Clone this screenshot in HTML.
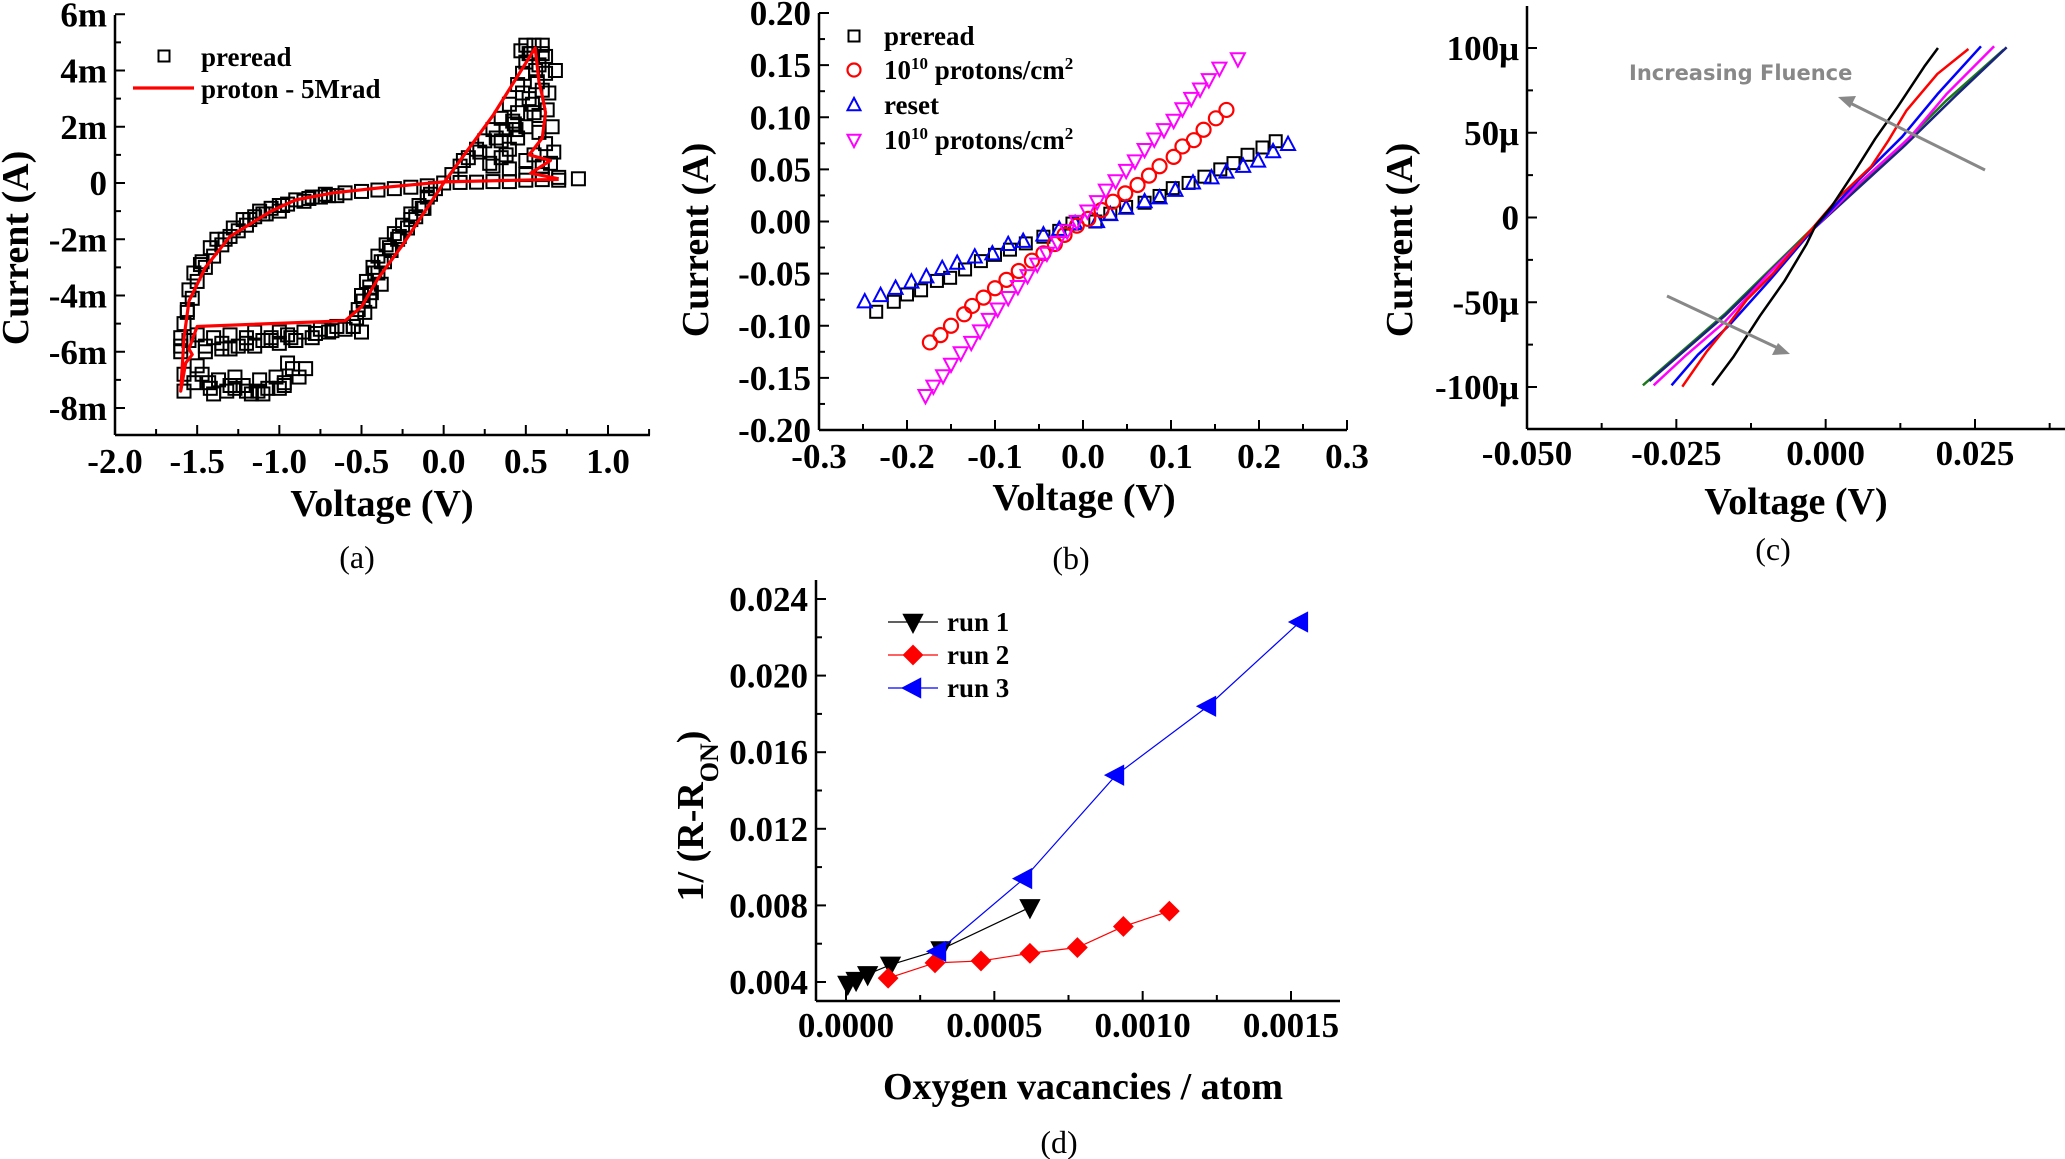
<!DOCTYPE html>
<html><head><meta charset="utf-8">
<style>
html,body{margin:0;padding:0;background:#fff;}
svg{display:block;font-family:"Liberation Serif","DejaVu Serif",serif;}
.tl{font-weight:bold;font-size:35px;}
.tt{font-weight:bold;font-size:38px;}
.lg{font-weight:bold;font-size:27px;}
.cap{font-size:32px;}
</style></head>
<body>
<svg id="fig" width="2065" height="1159" viewBox="0 0 2065 1159" xmlns="http://www.w3.org/2000/svg">
<rect width="2065" height="1159" fill="#fff"/>
<g id="pa"></g>
<g id="pb"></g>
<g id="pc"></g>
<g id="pd"></g>
</svg>
<script>
// ---------- Panel (a) data ----------
const aPreV = [0.82,0.7,0.6,0.5,0.4,0.3,0.2,0.1,0.0,-0.1,-0.2,-0.3,-0.4,-0.5,-0.6,-0.7,-0.8,-0.9,-1.0,-1.05,-1.1,-1.15,-1.2,-1.25,-1.3,-1.35,-1.4,-1.45,-1.5,-1.53,-1.56,-1.58,-1.6,
 -0.65,-0.75,-0.85,-0.95,-1.0,-1.08,-1.18,-1.28,-1.33,-1.42,-1.47,-1.52,-1.55,
 -1.6,-1.55,-1.5,-1.45,-1.4,-1.35,-1.3,-1.25,-1.2,-1.15,-1.1,-1.05,-1.0,-0.95,-0.9,-0.85,-0.8,-0.75,-0.7,-0.65,-0.6,-0.55,-1.45,-1.3,-1.15,-1.0,-0.9,
 -1.58,-1.52,-1.47,-1.42,-1.37,-1.32,-1.27,-1.22,-1.17,-1.12,-1.07,-1.02,-0.97,-0.92,-0.88,-0.84,-1.5,-1.4,-1.3,-1.2,-1.1,-1.0,-0.95,
 -0.55,-0.52,-0.5,-0.47,-0.43,-0.4,-0.35,-0.3,-0.25,-0.2,-0.15,-0.1,-0.05,-0.48,-0.44,-0.4,-0.36,-0.32,-0.28,-0.22,-0.17,-0.12,-0.5,-0.45,-0.38,
 0.05,0.1,0.15,0.2,0.25,0.3,0.35,0.4,0.45,0.5,0.5,0.55,0.6,0.62,0.58,0.62,0.68,0.6,0.63,0.55,0.5,0.45,0.4,0.35,0.3,0.55,0.62,0.65,0.6,0.5,0.4,0.58,0.52,0.45,0.35,0.47,0.53,0.57,0.43,0.38,
 -1.48,-1.38,-1.22,-1.12,-0.98,-0.82,-0.72,-1.56,-1.6,-1.58,-1.43,-1.27,-1.13,-0.97,-0.78,-0.68,-1.35,-1.2,-1.05,-0.93,
 -0.53,-0.49,-0.45,-0.42,-0.38,-0.33,-0.27,-0.2,-0.13,-0.08,
 0.12,0.22,0.32,0.42,0.48,0.52,0.56,0.6,0.64,0.66,0.54,0.44,0.38,0.28,0.5,0.6,0.67,0.7,0.48,0.58];
const aPreI = [0.15,0.1,0.12,0.1,0.05,0.05,0.03,0.02,0.0,-0.1,-0.15,-0.2,-0.25,-0.3,-0.35,-0.45,-0.5,-0.6,-0.8,-0.9,-1.1,-1.2,-1.5,-1.7,-1.9,-2.2,-2.6,-3.0,-3.5,-4.1,-4.6,-5.0,-5.5,
 -0.45,-0.5,-0.65,-0.75,-1.0,-1.1,-1.3,-1.6,-2.0,-2.3,-2.8,-3.2,-3.8,
 -5.8,-5.6,-5.4,-5.8,-5.5,-5.7,-5.4,-5.8,-5.5,-5.3,-5.6,-5.5,-5.3,-5.4,-5.6,-5.3,-5.5,-5.2,-5.3,-5.1,-5.2,-5.1,-6.0,-5.9,-5.8,-5.7,-5.6,
 -7.4,-7.1,-6.8,-7.3,-7.0,-7.4,-6.9,-7.2,-7.5,-7.0,-7.3,-6.9,-7.1,-6.6,-6.9,-6.6,-6.5,-7.5,-7.2,-7.4,-7.5,-7.3,-6.4,
 -5.1,-4.5,-4.0,-3.5,-3.0,-2.6,-2.2,-1.8,-1.5,-1.1,-0.8,-0.5,-0.2,-4.6,-3.9,-3.2,-2.8,-2.4,-2.0,-1.6,-1.2,-0.9,-5.3,-4.2,-3.6,
 0.3,0.6,0.9,1.2,1.5,1.9,2.3,2.8,3.5,4.3,4.9,4.9,4.9,4.5,4.2,3.9,4.0,3.3,2.6,2.5,2.0,1.6,1.2,0.9,0.6,1.0,1.4,0.7,0.3,0.3,0.5,1.8,3.0,2.5,1.5,4.7,4.6,3.6,2.1,1.9,
 -2.9,-2.0,-1.3,-1.0,-0.8,-0.55,-0.4,-4.5,-6.0,-6.8,-7.1,-7.3,-7.4,-7.2,-5.35,-5.25,-5.9,-5.7,-5.6,-5.5,
 -4.8,-4.2,-3.7,-3.2,-2.8,-2.3,-1.9,-1.3,-0.9,-0.4,
 0.8,1.1,1.6,2.2,3.9,4.6,4.0,4.6,3.2,2.0,2.8,1.9,1.0,0.7,0.8,0.6,1.1,0.2,3.2,2.4];
const aRedV = [0.7,0.3,0.0,-0.35,-0.67,-0.9,-1.05,-1.3,-1.45,-1.55,-1.58,-1.6,-1.57,-1.53,-1.55,-1.5,-0.6,-0.5,-0.4,-0.25,0.0,0.3,0.557,0.58,0.6,0.62,0.6,0.52,0.65,0.53,0.7];
const aRedI = [0.13,0.08,0.04,-0.15,-0.35,-0.6,-1.0,-1.9,-3.0,-4.2,-5.5,-7.4,-6.4,-6.1,-5.9,-5.1,-4.9,-4.4,-3.4,-2.2,0.0,2.4,4.8,3.6,3.1,2.5,1.6,1.0,0.8,0.35,0.15];
const aXTicks = ["-2.0","-1.5","-1.0","-0.5","0.0","0.5","1.0"];
const aYTicks = ["6m","4m","2m","0","-2m","-4m","-6m","-8m"];

// ---------- Panel (b) data ----------
const bPreV = [-0.235,-0.215,-0.2,-0.184,-0.166,-0.151,-0.134,-0.116,-0.1,-0.083,-0.065,-0.045,-0.027,-0.012,0.014,0.031,0.049,0.07,0.087,0.102,0.12,0.138,0.156,0.171,0.187,0.204,0.219];
const bPreI = [-0.0866,-0.077,-0.07,-0.066,-0.057,-0.054,-0.046,-0.038,-0.032,-0.027,-0.021,-0.0146,-0.009,-0.002,0.0,0.0075,0.014,0.018,0.0245,0.032,0.037,0.043,0.05,0.056,0.064,0.071,0.077];
const bP1V = [-0.174,-0.162,-0.15,-0.135,-0.126,-0.113,-0.1,-0.087,-0.073,-0.058,-0.045,-0.032,-0.021,-0.007,0.006,0.021,0.034,0.048,0.062,0.075,0.087,0.103,0.113,0.126,0.137,0.151,0.163];
const bP1I = [-0.116,-0.109,-0.1,-0.089,-0.081,-0.073,-0.064,-0.056,-0.0475,-0.0376,-0.0305,-0.0216,-0.0128,-0.004,0.0025,0.011,0.019,0.027,0.035,0.044,0.053,0.062,0.072,0.078,0.088,0.099,0.107];
const bResV = [-0.248,-0.23,-0.213,-0.195,-0.178,-0.16,-0.143,-0.123,-0.103,-0.085,-0.068,-0.045,-0.027,-0.009,0.016,0.031,0.049,0.07,0.087,0.105,0.125,0.146,0.163,0.182,0.199,0.216,0.233];
const bResI = [-0.077,-0.071,-0.064,-0.058,-0.053,-0.045,-0.04,-0.034,-0.031,-0.022,-0.019,-0.0128,-0.0075,-0.002,0.0,0.0067,0.0128,0.019,0.0227,0.03,0.037,0.042,0.0475,0.053,0.058,0.067,0.074];
const bP2V = [-0.179,-0.17,-0.159,-0.15,-0.139,-0.127,-0.117,-0.107,-0.097,-0.085,-0.074,-0.063,-0.052,-0.041,-0.029,-0.018,-0.007,0.005,0.016,0.026,0.037,0.049,0.059,0.07,0.081,0.092,0.103,0.113,0.123,0.133,0.143,0.155,0.176];
const bP2I = [-0.167,-0.158,-0.148,-0.137,-0.126,-0.116,-0.105,-0.094,-0.084,-0.073,-0.0625,-0.052,-0.041,-0.0305,-0.02,-0.009,0.0,0.01,0.019,0.03,0.039,0.049,0.058,0.069,0.079,0.088,0.097,0.108,0.118,0.127,0.136,0.147,0.156];
const bXTicks = ["-0.3","-0.2","-0.1","0.0","0.1","0.2","0.3"];
const bYTicks = ["0.20","0.15","0.10","0.05","0.00","-0.05","-0.10","-0.15","-0.20"];

// ---------- Panel (c) data ----------
const cBlackV = [-0.019,-0.0154,-0.011,-0.0069,-0.0032,-0.0017,0.0009,0.0046,0.0083,0.012,0.0165,0.0188];
const cBlackI = [-99,-82,-58,-37.5,-15.7,-4.8,6,25.8,46.5,65,89,100];
const cRedV = [-0.024,-0.0199,-0.0169,-0.0132,-0.0088,-0.0021,0.0024,0.0076,0.0105,0.0135,0.0187,0.0239];
const cRedI = [-99.8,-79,-66,-48.5,-33,-5.9,12.7,30,45.4,63,84.7,99.4];
const cBlueV = [-0.0258,-0.0214,-0.0162,-0.0095,-0.0021,0.0053,0.0128,0.0187,0.026];
const cBlueI = [-99,-81,-63.8,-37.5,-7,21.4,47.6,72.7,101];
const cMagV = [-0.0288,-0.0236,-0.0169,-0.0095,-0.0021,0.0053,0.0142,0.0202,0.0282];
const cMagI = [-99,-82,-61.6,-33,-7,19.2,47.6,72.7,101];
const cGreenV = [-0.0306,-0.0169,-0.0021,0.0128,0.0202,0.0298];
const cGreenI = [-99,-57,-6,43,69,99];
const cNavyV = [-0.0295,-0.0169,-0.0021,0.0128,0.0217,0.0303];
const cNavyI = [-96.5,-58,-7,41,71.6,100.4];
const cXTicks = ["-0.050","-0.025","0.000","0.025"];
const cYTicks = ["100μ","50μ","0","-50μ","-100μ"];

// ---------- Panel (d) data ----------
const dRun1X = [0.000006,0.000034,0.000073,0.00015,0.00032,0.00062];
const dRun1Y = [0.0039,0.0041,0.0044,0.0049,0.0057,0.0079];
const dRun2X = [0.000142,0.0003,0.000455,0.00062,0.00078,0.000935,0.00109];
const dRun2Y = [0.0042,0.0050,0.0051,0.0055,0.0058,0.0069,0.0077];
const dRun3X = [0.00031,0.0006,0.00091,0.00122,0.00153];
const dRun3Y = [0.0056,0.0094,0.0148,0.0184,0.0228];
const dXTicks = ["0.0000","0.0005","0.0010","0.0015"];
const dYTicks = ["0.024","0.020","0.016","0.012","0.008","0.004"];

const NS = "http://www.w3.org/2000/svg";
function mk(parent, tag, attrs, text){
  const e = document.createElementNS(NS, tag);
  for (const k in attrs) e.setAttribute(k, attrs[k]);
  if (text !== undefined) e.textContent = text;
  parent.appendChild(e);
  return e;
}
function lin(d0,d1,r0,r1){ return v => r0 + (v-d0)*(r1-r0)/(d1-d0); }

function marker(g, type, x, y, s, color, fill){
  let e;
  const f = fill ? color : "none";
  if (type === "square") e = mk(g,"rect",{x:x-s/2,y:y-s/2,width:s,height:s,fill:f,stroke:color,"stroke-width":2});
  else if (type === "circle") e = mk(g,"circle",{cx:x,cy:y,r:s/2,fill:f,stroke:color,"stroke-width":2.2});
  else {
    let p;
    const h = s/2;
    if (type === "up") p = [[x,y-h*1.1],[x+h,y+h*0.8],[x-h,y+h*0.8]];
    else if (type === "down") p = [[x-h,y-h*0.8],[x+h,y-h*0.8],[x,y+h*1.1]];
    else if (type === "left") p = [[x-h*1.1,y],[x+h*0.8,y-h],[x+h*0.8,y+h]];
    else p = [[x,y-h],[x+h,y],[x,y+h],[x-h,y]];
    e = mk(g,"polygon",{points:p.map(q=>q.join(",")).join(" "),fill:f,stroke:color,"stroke-width":2});
  }
  return e;
}

function axes(g, o){
  const ax = mk(g,"g",{});
  
  
  mk(ax,"line",{x1:o.axX,y1:o.yTop,x2:o.axX,y2:o.axY,stroke:"#000","stroke-width":2.5});
  mk(ax,"line",{x1:o.axX,y1:o.axY,x2:o.xEnd,y2:o.axY,stroke:"#000","stroke-width":2.5});
  o.xMinor.forEach(v=>{ const X=o.xs(v); if (X>o.xEnd) return; mk(ax,"line",{x1:X,y1:o.axY,x2:X,y2:o.axY-6,stroke:"#000","stroke-width":2}); });
  o.xMajor.forEach(v=>{ const X=o.xs(v); mk(ax,"line",{x1:X,y1:o.axY,x2:X,y2:o.axY-10,stroke:"#000","stroke-width":2}); });
  o.yMinor.forEach(v=>{ const Y=o.ys(v); if (Y<o.yTop||Y>o.axY) return; mk(ax,"line",{x1:o.axX,y1:Y,x2:o.axX+6,y2:Y,stroke:"#000","stroke-width":2}); });
  o.yMajor.forEach(v=>{ const Y=o.ys(v); mk(ax,"line",{x1:o.axX,y1:Y,x2:o.axX+10,y2:Y,stroke:"#000","stroke-width":2}); });
  o.xLabVals.forEach((v,i)=>{
    const t = mk(ax,"text",{x:o.xs(v),y:o.xLabY,"text-anchor":"middle",class:"tl"},o.xLabels[i]);
    
    
  });
  o.yLabVals.forEach((v,i)=>{
    const t = mk(ax,"text",{x:o.axX-8,y:o.ys(v)+12,"text-anchor":"end",class:"tl"},o.yLabels[i]);
    
    
  });
  const xt = mk(g,"text",{x:o.xtX,y:o.xtY,"text-anchor":"middle",class:"tt"},o.xTitle);
  
  
  const yt = mk(g,"text",{x:0,y:0,"text-anchor":"middle",class:"tt",transform:`translate(${o.ytX},${o.ytY}) rotate(-90)`});
  
  
  if (o.yTitleSub){ yt.textContent = o.yTitle; mk(yt,"tspan",{"baseline-shift":"sub","font-size":"26px"},o.yTitleSub); mk(yt,"tspan",{},")"); }
  else yt.textContent = o.yTitle;
  const cp = mk(g,"text",{x:o.capX,y:o.capY,"text-anchor":"middle",class:"cap"},o.cap);
  
  
}
function range(a,b,s){ const r=[]; for(let v=a; v<=b+1e-12; v+=s) r.push(+v.toFixed(8)); return r; }

// ===== Panel a =====
(function(){
  const g = document.getElementById("pa");
  const xs = lin(-2,1,115,608), ys = lin(0,-8,183,408);
  axes(g,{pfx:"a",axX:115,axY:435,yTop:15,xEnd:650,xs,ys,
    xMajor:range(-2,1,0.5),xMinor:range(-1.75,1.25,0.5),yMajor:range(-8,6,2),yMinor:range(-7,5,2),
    xLabVals:range(-2,1,0.5),xLabels:aXTicks,xLabY:473,
    yLabVals:[6,4,2,0,-2,-4,-6,-8],yLabels:aYTicks,
    xTitle:"Voltage (V)",xtX:382,xtY:516,yTitle:"Current (A)",ytX:28,ytY:248,cap:"(a)",capX:357,capY:568});
  const s = mk(g,"g",{});
  
  
  aPreV.forEach((v,i)=>{ marker(s,"square",xs(v),ys(aPreI[i]),13,"#000",false); });
  const pl = mk(g,"polyline",{points:aRedV.map((v,i)=>xs(v)+","+ys(aRedI[i])).join(" "),fill:"none",stroke:"#f00","stroke-width":3.2,"stroke-linejoin":"round"});
  
  
  const lg = mk(g,"g",{});
  
  
  marker(lg,"square",164,56,11,"#000",false);
  mk(lg,"text",{x:201,y:66,class:"lg"},"preread");
  mk(lg,"line",{x1:133,y1:88,x2:194,y2:88,stroke:"#f00","stroke-width":3.2});
  mk(lg,"text",{x:201,y:98,class:"lg"},"proton - 5Mrad");
})();

// ===== Panel b =====
(function(){
  const g = document.getElementById("pb");
  const xs = lin(-0.3,0.3,819,1347), ys = lin(0.2,-0.2,13,430);
  axes(g,{pfx:"b",axX:819,axY:430,yTop:13,xEnd:1347,xs,ys,
    xMajor:range(-0.3,0.3,0.1),xMinor:range(-0.25,0.25,0.1),yMajor:range(-0.2,0.2,0.05),yMinor:range(-0.175,0.175,0.05),
    xLabVals:range(-0.3,0.3,0.1),xLabels:bXTicks,xLabY:468,
    yLabVals:[0.2,0.15,0.1,0.05,0,-0.05,-0.1,-0.15,-0.2],yLabels:bYTicks,
    xTitle:"Voltage (V)",xtX:1084,xtY:510,yTitle:"Current (A)",ytX:708,ytY:240,cap:"(b)",capX:1071,capY:569});
  const series = [[bPreV,bPreI,"square","#000","preread-series-b"],[bResV,bResI,"up","#00f","reset-series"],[bP1V,bP1I,"circle","#f00","protons-1-series"],[bP2V,bP2I,"down","#f0f","protons-2-series"]];
  series.forEach(sr=>{
    const s = mk(g,"g",{});
    
    
    sr[0].forEach((v,i)=>marker(s,sr[2],xs(v),ys(sr[1][i]),sr[2]==="square"?12:14,sr[3],false));
  });
  const lg = mk(g,"g",{});
  
  
  marker(lg,"square",854,36,11,"#000",false);
  mk(lg,"text",{x:884,y:45,class:"lg"},"preread");
  marker(lg,"circle",854,70,13,"#f00",false);
  const t1 = mk(lg,"text",{x:884,y:79,class:"lg"},"10"); mk(t1,"tspan",{"font-size":"17px",dy:"-10"},"10"); mk(t1,"tspan",{dy:"10"}," protons/cm"); mk(t1,"tspan",{"font-size":"17px",dy:"-10"},"2");
  marker(lg,"up",854,105,13,"#00f",false);
  mk(lg,"text",{x:884,y:114,class:"lg"},"reset");
  marker(lg,"down",854,140,13,"#f0f",false);
  const t2 = mk(lg,"text",{x:884,y:149,class:"lg"},"10"); mk(t2,"tspan",{"font-size":"17px",dy:"-10"},"10"); mk(t2,"tspan",{dy:"10"}," protons/cm"); mk(t2,"tspan",{"font-size":"17px",dy:"-10"},"2");
})();

// ===== Panel c =====
(function(){
  const g = document.getElementById("pc");
  const xs = lin(-0.05,0.025,1527,1975), ys = lin(100,-100,48,387);
  axes(g,{pfx:"c",axX:1527,axY:429,yTop:6,xEnd:2065,xs,ys,
    xMajor:range(-0.05,0.025,0.025),xMinor:range(-0.0375,0.0375,0.025),yMajor:range(-100,100,50),yMinor:range(-125,125,50),
    xLabVals:[-0.05,-0.025,0,0.025],xLabels:cXTicks,xLabY:465,
    yLabVals:[100,50,0,-50,-100],yLabels:cYTicks,
    xTitle:"Voltage (V)",xtX:1796,xtY:514,yTitle:"Current (A)",ytX:1412,ytY:240,cap:"(c)",capX:1773,capY:560});
  const series = [[cGreenV,cGreenI,"#1a7a1a","fluence-green-line"],[cNavyV,cNavyI,"#1a237e","fluence-navy-line"],[cMagV,cMagI,"#f0f","fluence-magenta-line"],[cBlueV,cBlueI,"#00f","fluence-blue-line"],[cRedV,cRedI,"#f00","fluence-red-line"],[cBlackV,cBlackI,"#000","prerad-black-line"]];
  series.forEach(sr=>{
    const p = mk(g,"polyline",{points:sr[0].map((v,i)=>xs(v)+","+ys(sr[1][i])).join(" "),fill:"none",stroke:sr[2],"stroke-width":2.5,"stroke-linejoin":"round"});
    
    
  });
  const an = mk(g,"g",{});
  
  
  mk(an,"text",{x:1629,y:80,fill:"#888","font-family":"DejaVu Sans, sans-serif","font-weight":"bold","font-size":"21px"},"Increasing Fluence");
  mk(an,"line",{x1:1985,y1:170,x2:1848,y2:102,stroke:"#888","stroke-width":3});
  mk(an,"polygon",{points:"1838,97 1856,96 1850,108",fill:"#888"});
  mk(an,"line",{x1:1667,y1:296,x2:1780,y2:349,stroke:"#888","stroke-width":3});
  mk(an,"polygon",{points:"1790,354 1772,355 1778,343",fill:"#888"});
})();

// ===== Panel d =====
(function(){
  const g = document.getElementById("pd");
  const xs = lin(0,0.0015,846,1291), ys = lin(0.024,0.004,599,982);
  axes(g,{pfx:"d",axX:816,axY:1001,yTop:580,xEnd:1340,xs,ys,
    xMajor:range(0,0.0015,0.0005),xMinor:range(0.00025,0.00125,0.0005),yMajor:range(0.004,0.024,0.004),yMinor:range(0.006,0.022,0.004),
    xLabVals:[0,0.0005,0.001,0.0015],xLabels:dXTicks,xLabY:1037,
    yLabVals:[0.024,0.02,0.016,0.012,0.008,0.004],yLabels:dYTicks,
    xTitle:"Oxygen vacancies / atom",xtX:1083,xtY:1099,yTitle:"1/ (R-R",yTitleSub:"ON",ytX:703,ytY:816,cap:"(d)",capX:1059,capY:1153});
  const series = [[dRun1X,dRun1Y,"down","#000","run1"],[dRun2X,dRun2Y,"diamond","#f00","run2"],[dRun3X,dRun3Y,"left","#00f","run3"]];
  series.forEach(sr=>{
    const s = mk(g,"g",{});
    
    
    mk(s,"polyline",{points:sr[0].map((v,i)=>xs(v)+","+ys(sr[1][i])).join(" "),fill:"none",stroke:sr[3],"stroke-width":1.2});
    sr[0].forEach((v,i)=>marker(s,sr[2],xs(v),ys(sr[1][i]),18,sr[3],true));
  });
  const lg = mk(g,"g",{});
  
  
  const rows = [["down","#000","run 1",622],["diamond","#f00","run 2",655],["left","#00f","run 3",688]];
  rows.forEach(r=>{
    mk(lg,"line",{x1:888,y1:r[3],x2:938,y2:r[3],stroke:r[1],"stroke-width":1.2});
    marker(lg,r[0],913,r[3],18,r[1],true);
    mk(lg,"text",{x:947,y:r[3]+9,class:"lg","font-size":"24px"},r[2]);
  });
})();
</script>
</body></html>
